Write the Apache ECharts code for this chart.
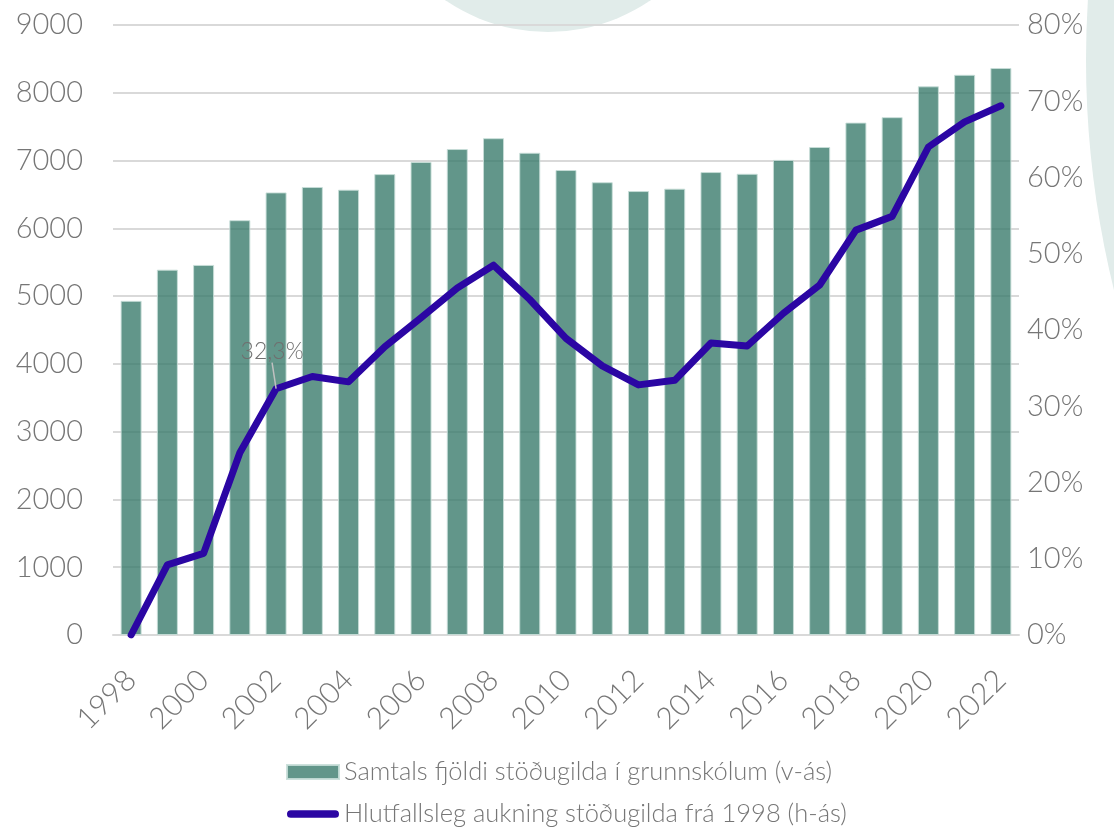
<!DOCTYPE html>
<html>
<head>
<meta charset="utf-8">
<script src="https://cdn.jsdelivr.net/npm/echarts@6/dist/echarts.min.js"></script>
<style>
html,body{margin:0;padding:0;background:#fff;}
#chart{width:1114px;height:831px;}
</style>
</head>
<body>
<div id="chart"></div>
<script>
const years = ['1998','1999','2000','2001','2002','2003','2004','2005','2006','2007','2008','2009','2010','2011','2012','2013','2014','2015','2016','2017','2018','2019','2020','2021','2022'];
const positions = [4930,5390,5460,6120,6530,6610,6570,6800,6980,7170,7330,7115,6860,6680,6550,6585,6830,6805,7010,7200,7560,7640,8095,8265,8365];
const increasePct = [0,9.2,10.7,23.9,32.3,33.9,33.2,37.8,41.6,45.5,48.5,44.0,38.9,35.3,32.8,33.4,38.3,37.9,42.2,45.9,53.1,54.9,64.0,67.3,69.4];
const leftTicks = {min:0, max:9000, interval:1000};
const rightTicks = {min:0, max:80, interval:10};
const barName = 'Samtals fjöldi stöðugilda í grunnskólum (v-ás)';
const lineName = 'Hlutfallsleg aukning stöðugilda frá 1998 (h-ás)';
const annotatedYear = '2002';
const annotationText = '32,3%';

const FONT = 'Lato, "Open Sans", sans-serif';
const TXT = '#767676';
const LINE_COLOR = '#2b06a3';

const lineData = increasePct.map((v, i) => {
  if (years[i] === annotatedYear) {
    return {
      value: v,
      label: {show: true, formatter: annotationText, position: 'top', distance: 2,
        fontFamily: FONT, fontSize: 23, fontWeight: 300, color: '#6f6f6f'},
      labelLine: {show: true, lineStyle: {color: '#c0c0c0', width: 1.5}}
    };
  }
  return v;
});

const chart = echarts.init(document.getElementById('chart'));
chart.setOption({
  backgroundColor: '#ffffff',
  animation: false,
  graphic: [
    {type: 'circle', z: -10, silent: true, shape: {cx: 548, cy: -150, r: 182}, style: {fill: '#e1ecea'}},
    {type: 'circle', z: -10, silent: true, shape: {cx: 2046, cy: 60, r: 960}, style: {fill: '#e1ecea'}}
  ],
  grid: {left: 113, right: 95, top: 25, bottom: 196},
  legend: {
    orient: 'vertical', left: 286, top: 758, padding: 0, itemWidth: 52, itemHeight: 14, itemGap: 14,
    height: 73,
    textStyle: {fontFamily: FONT, fontSize: 25.5, fontWeight: 300, color: TXT, lineHeight: 28},
    data: [
      {name: barName, icon: 'rect'},
      {name: lineName, icon: 'path://M0,0M54,14M4,3L50,3A4,4,0,0,1,50,11L4,11A4,4,0,0,1,4,3Z', itemStyle: {color: LINE_COLOR}}
    ]
  },
  xAxis: {
    type: 'category', data: years,
    axisTick: {show: false},
    axisLine: {lineStyle: {color: '#d9d9d9', width: 2}},
    axisLabel: {interval: 1, rotate: 45, margin: 40, fontFamily: FONT, fontSize: 30, fontWeight: 300, color: TXT}
  },
  yAxis: [
    {type: 'value', min: leftTicks.min, max: leftTicks.max, interval: leftTicks.interval,
      axisLine: {show: false}, axisTick: {show: false},
      splitLine: {lineStyle: {color: '#d9d9d9', width: 2}},
      axisLabel: {margin: 30, formatter: (v) => String(v), fontFamily: FONT, fontSize: 29, fontWeight: 300, color: TXT}},
    {type: 'value', min: rightTicks.min, max: rightTicks.max, interval: rightTicks.interval,
      axisLine: {show: false}, axisTick: {show: false}, splitLine: {show: false},
      axisLabel: {margin: 8, formatter: '{value}%', fontFamily: FONT, fontSize: 29, fontWeight: 300, color: TXT}}
  ],
  series: [
    {name: barName, type: 'bar', data: positions, barWidth: 21, yAxisIndex: 0,
      itemStyle: {color: 'rgba(54,120,105,0.78)', borderColor: 'rgba(200,222,216,0.9)', borderWidth: 1}},
    {name: lineName, type: 'line', data: lineData, yAxisIndex: 1, symbol: 'circle', symbolSize: 0.1,
      showSymbol: true, z: 5,
      lineStyle: {color: LINE_COLOR, width: 7, cap: 'round', join: 'round'},
      itemStyle: {color: LINE_COLOR},
      labelLayout: {dx: -4, dy: -24}}
  ]
});
</script>
</body>
</html>
